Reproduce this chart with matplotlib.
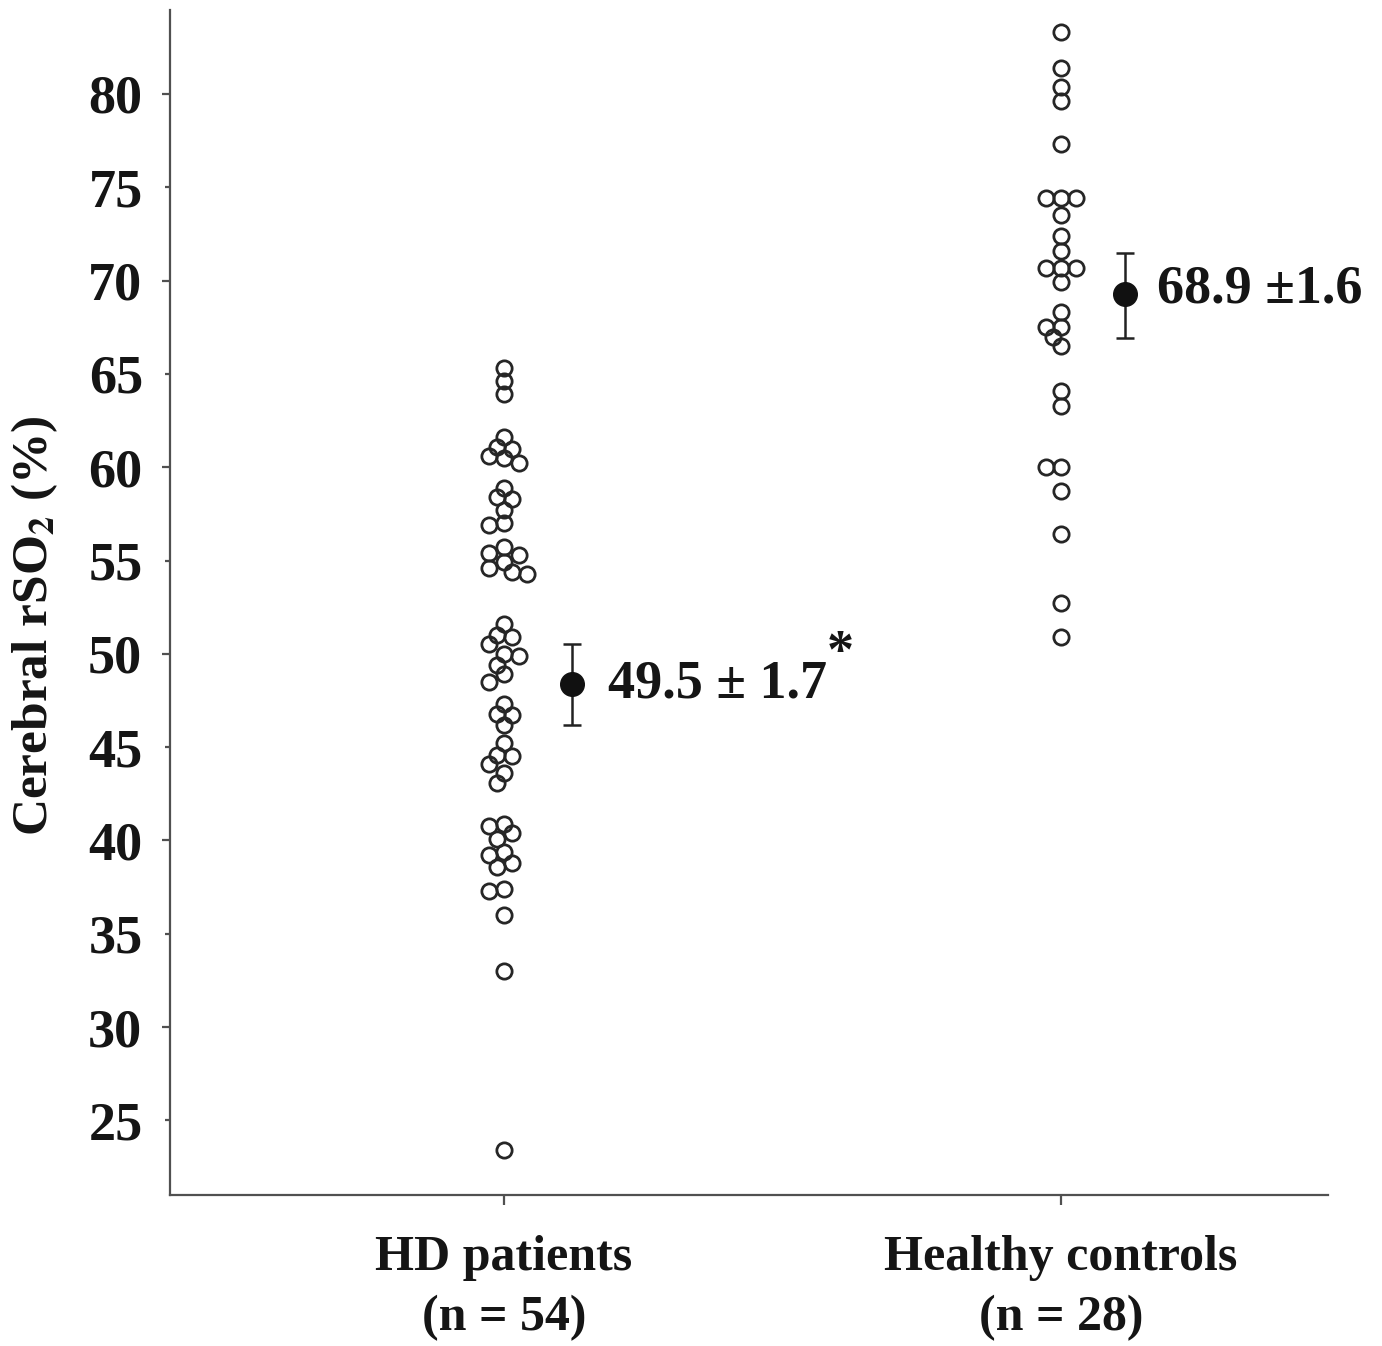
import numpy as np
import matplotlib
matplotlib.use("Agg")
import matplotlib.pyplot as plt
from matplotlib.ticker import MultipleLocator, FormatStrFormatter

# ---------------- data ----------------
categories = ["HD patients\n(n = 54)", "Healthy controls\n(n = 28)"]

hd_values = [65.3, 64.6, 63.9,
             61.6, 61.1, 61.0, 60.6, 60.5, 60.2,
             58.9, 58.4, 58.3, 57.7,
             57.0, 56.9,
             55.7, 55.4, 55.3, 54.9, 54.6, 54.4, 54.3,
             51.6, 51.0, 50.9, 50.5, 50.0, 49.9, 49.4, 48.9, 48.5,
             47.3, 46.8, 46.7, 46.2,
             45.2, 44.6, 44.5, 44.1, 43.6, 43.1,
             40.9, 40.8, 40.4, 40.1, 39.4, 39.2, 38.8, 38.6, 37.4, 37.3, 36.0,
             33.0, 23.4]

hc_values = [83.3, 81.4, 80.4, 79.6, 77.3,
             74.4, 74.4, 74.4, 73.5, 72.4, 71.6,
             70.7, 70.7, 70.7, 69.9, 68.3,
             67.5, 67.5, 67.0, 66.5,
             64.1, 63.3, 60.0, 60.0, 58.7, 56.4, 52.7, 50.9]

means = [48.4, 69.3]
ci_low = [46.2, 66.9]
ci_high = [50.5, 71.5]
mean_labels = ["49.5 \u00b1 1.7", "68.9 \u00b11.6"]
ylabel = "Cerebral rSO$_\\mathbf{2}$ (%)"

# ---------------- style ----------------
plt.rcParams['font.family'] = ['Liberation Serif', 'DejaVu Serif']
plt.rcParams['font.weight'] = 'bold'
plt.rcParams['mathtext.fontset'] = 'stix'

W, H = 1382, 1346
fig = plt.figure(figsize=(W / 100, H / 100), dpi=100)
ax = fig.add_axes([170 / W, 1 - 1195 / H, (1328 - 170) / W, (1195 - 10) / H])
ax.set_xlim(-0.6, 1.48)
ax.set_ylim(21.0, 84.5)

dark = '#262626'
axis_col = '#505050'
txt_col = '#151515'


def swarm(values, xc, step_px=7.5, dmin_px=11.5):
    order = np.argsort(values)[::-1]
    placed = []
    out = np.zeros((len(values), 2))
    for i in order:
        px, py = ax.transData.transform((xc, values[i]))
        chosen = None
        for k in range(0, 40):
            for sgn in ([0] if k == 0 else [-1, 1]):
                cx = px + sgn * k * step_px
                if all(np.hypot(cx - qx, py - qy) >= dmin_px for qx, qy in placed):
                    chosen = cx
                    break
            if chosen is not None:
                break
        placed.append((chosen, py))
        out[i] = ax.transData.inverted().transform((chosen, py))
    return out


for xc, vals in zip([0, 1], [hd_values, hc_values]):
    pts = swarm(vals, xc)
    ax.plot(pts[:, 0], pts[:, 1], 'o', ms=11, mfc='none', mec=dark, mew=2.0,
            linestyle='none')

mean_x = [0.122, 1.115]
for i in range(2):
    ax.errorbar(mean_x[i], means[i],
                yerr=[[means[i] - ci_low[i]], [ci_high[i] - means[i]]],
                fmt='o', ms=17, color='#111111', ecolor='#222222',
                elinewidth=1.8, capsize=6.5, capthick=1.8)

ax.text(0.187, 48.33, mean_labels[0], fontsize=39, fontweight='bold',
        ha='left', va='center', color=txt_col)
ax.text(0.579, 48.65, "*", fontsize=39, fontweight='bold',
        ha='left', va='bottom', color=txt_col)
ax.text(1.172, 69.5, mean_labels[1], fontsize=39, fontweight='bold',
        ha='left', va='center', color=txt_col)

# axes
for s in ['top', 'right']:
    ax.spines[s].set_visible(False)
for s in ['left', 'bottom']:
    ax.spines[s].set_color(axis_col)
    ax.spines[s].set_linewidth(1.6)

ax.set_xticks([0, 1])
ax.set_xticklabels(categories, fontsize=36, fontweight='bold', linespacing=1.4,
                   color=txt_col)
ax.yaxis.set_major_locator(MultipleLocator(10))
ax.yaxis.set_minor_locator(MultipleLocator(5))
ax.yaxis.set_major_formatter(FormatStrFormatter('%d'))
ax.yaxis.set_minor_formatter(FormatStrFormatter('%d'))
ax.tick_params(axis='y', which='major', length=6, width=1.6, color=axis_col,
               labelsize=39, pad=14, labelcolor=txt_col)
ax.tick_params(axis='y', which='minor', length=3.5, width=1.6, color=axis_col,
               labelsize=39, pad=16, labelcolor=txt_col)
ax.tick_params(axis='x', which='major', length=7, width=1.6, color=axis_col,
               labelsize=36, pad=22)
for lab in ax.get_yticklabels(which='both'):
    lab.set_fontweight('bold')

ax.set_ylabel(ylabel, fontsize=37, fontweight='bold', color=txt_col)
ax.yaxis.set_label_coords(-0.095, 0.48)

fig.savefig("out.png", dpi=100)
